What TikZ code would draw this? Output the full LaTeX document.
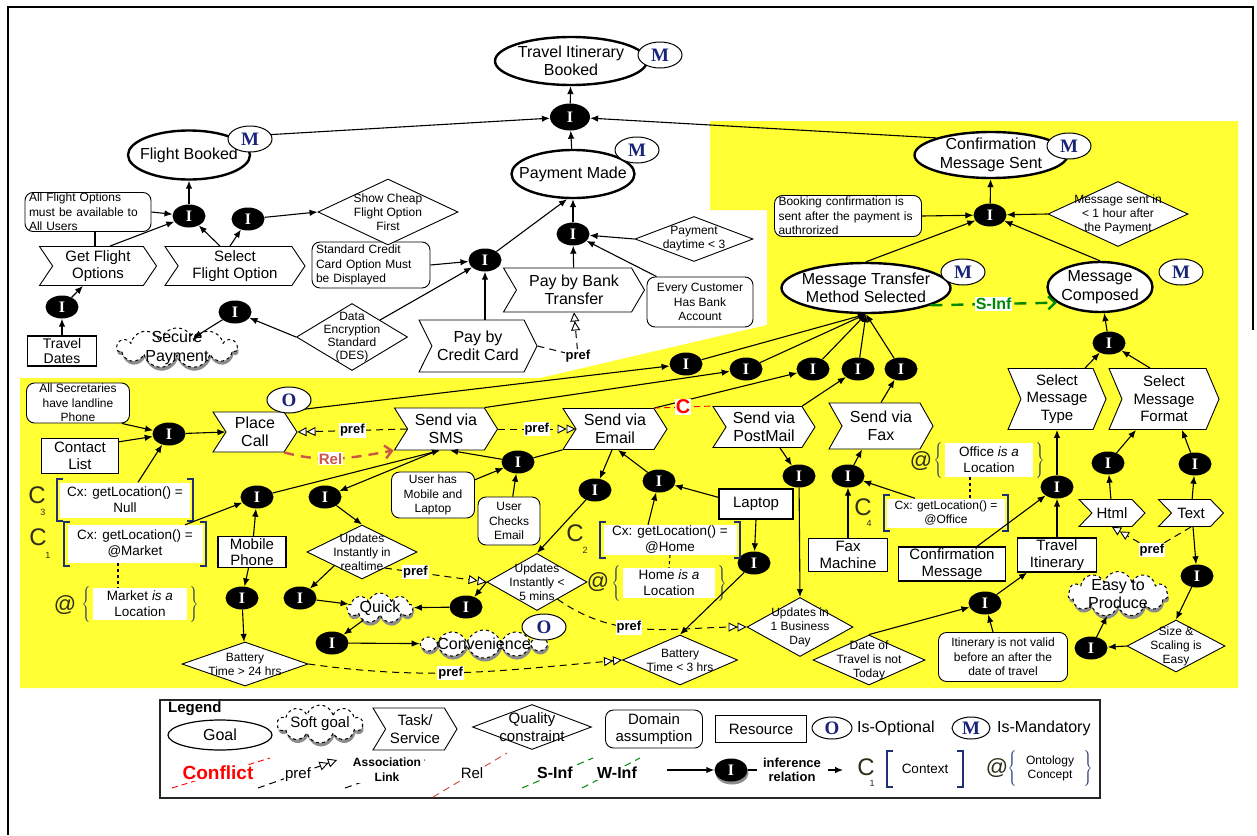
\documentclass[tikz,border=0pt]{standalone}
\usepackage{fontspec}
\setmainfont{Liberation Sans}
\newfontfamily\serifface{Liberation Serif}
\usetikzlibrary{shapes.geometric,shapes.symbols,shadows,arrows.meta,calc}

\definecolor{hilite}{RGB}{255,255,51}
\definecolor{badgeblue}{RGB}{25,35,120}
\definecolor{brkblue}{RGB}{30,50,115}
\definecolor{relred}{RGB}{205,85,70}
\definecolor{infgreen}{RGB}{0,135,0}
\definecolor{markdark}{RGB}{45,45,25}

\newcommand\fsz[2]{\fontsize{#1}{#2}\selectfont}

% square brackets drawn round a context box
\newcommand\ctxbrackets[1]{%
  \draw[brk] ($(#1.north west)+(3,-3)$) -| ($(#1.south west)+(-3,3)$) -- ++(6,0);
  \draw[brk] ($(#1.north east)+(-3,-3)$) -| ($(#1.south east)+(3,3)$) -- ++(-6,0);
}
% curly braces round an ontology concept
\newcommand\ontbraces[1]{%
  \node[brace, anchor=east] (#1-ob) at ([xshift=-1pt]#1.west) {$\left\{\vrule height 15pt depth 15pt width 0pt\right.$};
  \node[brace, anchor=west] (#1-cb) at ([xshift=1pt]#1.east) {$\left.\vrule height 15pt depth 15pt width 0pt\right\}$};
}

\tikzset{
  lbl/.style={align=center, inner sep=0pt, text=black},
  tg/.style={label={[lbl,font=\fsz{16}{18.5}]center:{#1}}},
  tt/.style={label={[lbl,font=\fsz{15}{17.5}]center:{#1}}},
  tq/.style={label={[lbl,font=\fsz{12}{14}]center:{#1}}},
  tq4/.style={label={[lbl,font=\fsz{12}{13}]center:{#1}}},
  goal/.style={ellipse, draw, line width=2.4pt, fill=white, inner sep=0pt},
  inode/.style={ellipse, fill=black, text=white, font=\serifface\bfseries\fsz{16}{16},
    minimum width=33pt, minimum height=23pt, inner sep=0pt},
  badge/.style={ellipse, draw, line width=1pt, fill=white, text=badgeblue,
    font=\serifface\bfseries\fsz{19}{19}, minimum width=44pt, minimum height=26pt, inner sep=0pt},
  task/.style={signal, signal to=east, signal from=west, signal pointer angle=#1,
    draw, line width=0.9pt, fill=white, inner sep=0pt},
  dom/.style={rectangle, rounded corners=8pt, draw, line width=0.9pt, fill=white,
    font=\fsz{12}{14.5}, align=center, inner xsep=4pt, inner ysep=0pt},
  res/.style={rectangle, draw, line width=1.2pt, fill=white, font=\fsz{15}{16.5},
    align=center, inner sep=0pt},
  qual/.style={diamond, draw, line width=0.9pt, fill=white, inner sep=0pt},
  soft/.style={cloud, cloud puffs=#1, cloud ignores aspect, draw, dashed, line width=1pt,
    fill=white, inner sep=0pt,
    drop shadow={shadow xshift=1pt, shadow yshift=-3.5pt, fill=black!45, opacity=1}},
  ctxbox/.style={fill=white, font=\fsz{13.5}{16}, align=center, inner sep=0pt},
  cletter/.style={text=markdark, font=\fsz{24}{24}, inner sep=0pt},
  csub/.style={text=markdark, font=\fsz{9}{9}, inner sep=0pt},
  atsign/.style={text=markdark, font=\fsz{22}{22}, inner sep=0pt},
  brace/.style={text=brkblue, inner sep=0pt},
  brk/.style={brkblue, line width=2.2pt},
  arr/.style={-{Latex[length=8pt,width=6.5pt]}, line width=1.1pt},
  ln/.style={line width=1.1pt},
  pref/.style={line width=1pt, dash pattern=on 7pt off 5pt,
    -{Triangle[fill=white,length=9pt,width=9pt,line width=0.9pt]Triangle[fill=white,length=9pt,width=9pt,line width=0.9pt]}},
  preflbl/.style={fill=white, inner sep=1pt, font=\bfseries\fsz{13}{13}},
  relc/.style={relred, line width=2.4pt, dash pattern=on 10pt off 7pt, -{Straight Barb[length=7pt,width=13pt]}},
  rellbl/.style={fill=white, text=relred, font=\bfseries\fsz{15}{15}, inner sep=1pt},
  conf/.style={red, line width=0.9pt, dash pattern=on 6pt off 4pt},
  conflbl/.style={fill=white, text=red, font=\bfseries\fsz{20}{20}, inner sep=1pt},
  sinf/.style={infgreen, line width=2.4pt, dash pattern=on 12pt off 9pt, -{Straight Barb[length=7pt,width=13pt]}},
  sinflbl/.style={fill=white, text=infgreen, font=\bfseries\fsz{16}{16}, inner sep=1pt},
}

\begin{document}
\begin{tikzpicture}[x=1pt, y=-1pt]
\useasboundingbox (0,0) rectangle (1257,835);
\fill[white] (0,0) rectangle (1257,835);
% highlighted communication area
\fill[hilite] (20,378) -- (540,378) -- (767,325) -- (767,210) -- (710,210) -- (710,121)
  -- (1238,121) -- (1238,688) -- (20,688) -- cycle;
\draw[line width=2pt] (8,835) -- (8,7) -- (1253,7) -- (1253,330);

% ---------------- goals
\node[goal, minimum width=152, minimum height=48, tg={Travel Itinerary\\Booked}] (TIB) at (571,61) {};
\node[goal, minimum width=122, minimum height=49, tg={Flight Booked}] (FB) at (189,155) {};
\node[goal, minimum width=123, minimum height=48, tg={Payment Made}] (PM) at (573,174) {};
\node[goal, minimum width=153, minimum height=46, tg={Confirmation\\Message Sent}] (CMS) at (991,155) {};
\node[goal, minimum width=169, minimum height=50, tg={Message Transfer\\Method Selected}] (MTMS) at (866,288) {};
\node[goal, minimum width=105, minimum height=50, tg={Message\\Composed}] (MC) at (1100,287) {};

% ---------------- inference nodes
\node[inode, minimum width=40, minimum height=27] (I1) at (570,117) {I};
\node[inode] (I2) at (990,215) {I};
\node[inode] (I3) at (189,216) {I};
\node[inode] (I4) at (248,219) {I};
\node[inode] (I5) at (62,307) {I};
\node[inode] (I6) at (235,312) {I};
\node[inode] (I7) at (485,260) {I};
\node[inode] (I8) at (573,234) {I};
\node[inode] (Ia) at (686,364) {I};
\node[inode] (Ib) at (746,369) {I};
\node[inode] (Ic) at (813,369) {I};
\node[inode] (Id) at (858,369) {I};
\node[inode] (Ie) at (901,369) {I};
\node[inode] (I9) at (169,434) {I};
\node[inode] (I10) at (257,497) {I};
\node[inode] (I11) at (325,497) {I};
\node[inode] (I12) at (518,462) {I};
\node[inode] (I13) at (1109,343) {I};
\node[inode] (I14) at (300,598) {I};
\node[inode] (I15) at (332,643) {I};
\node[inode] (I16) at (595,490) {I};
\node[inode] (I17) at (659,481) {I};
\node[inode] (I18) at (466,607) {I};
\node[inode] (I19) at (754,563) {I};
\node[inode] (I20) at (799,476) {I};
\node[inode] (I21) at (242,598) {I};
\node[inode] (I22) at (848,476) {I};
\node[inode] (I23) at (1057,487) {I};
\node[inode] (I24) at (985,603) {I};
\node[inode] (I25) at (1108,463) {I};
\node[inode] (I26) at (1195,464) {I};
\node[inode] (I27) at (1197,576) {I};
\node[inode] (I28) at (1091,648) {I};

% ---------------- domain assumptions
\node[dom, align=left, text width=118pt, minimum height=39] (AFO) at (88,212) {All Flight Options\\must be available to\\All Users};
\node[dom, align=left, text width=110pt, minimum height=46] (SCC) at (371,265) {Standard Credit\\Card Option Must\\be Displayed};
\node[dom, align=left, text width=139pt, minimum height=41] (BCDA) at (848,216) {Booking confirmation is\\sent after the payment is\\authrorized};
\node[dom, minimum width=106, minimum height=50] (ECHBA) at (700,302) {Every Customer\\Has Bank\\Account};
\node[dom, minimum width=103, minimum height=40] (ASL) at (78,403) {All Secretaries\\have landline\\Phone};
\node[dom, minimum width=83, minimum height=46] (UhML) at (433,495) {User has\\Mobile and\\Laptop};
\node[dom, minimum width=62, minimum height=48] (UCE) at (509,521) {User\\Checks\\Email};
\node[dom, minimum width=129, minimum height=49] (INV) at (1003,657) {Itinerary is not valid\\before an after the\\date of travel};

% ---------------- resources
\node[res, font=\fsz{14}{15}, minimum width=69, minimum height=30] (TD) at (62,351) {Travel\\Dates};
\node[res, minimum width=77, minimum height=35] (CL) at (80,456) {Contact\\List};
\node[res, minimum width=68, minimum height=31] (MP) at (252,552) {Mobile\\Phone};
\node[res, minimum width=74, minimum height=30] (LT) at (756,504) {Laptop};
\node[res, minimum width=79, minimum height=33] (FM) at (848,555) {Fax\\Machine};
\node[res, minimum width=107, minimum height=34] (CM) at (952,564) {Confirmation\\Message};
\node[res, minimum width=79, minimum height=34] (TI) at (1057,555) {Travel\\Itinerary};

% ---------------- tasks
\node[task=112, minimum width=117, minimum height=39, tt={Get Flight\\Options}] (GFO) at (98,266) {};
\node[task=112, minimum width=140, minimum height=39, tt={Select\\Flight Option}] (SFO) at (235,266) {};
\node[task=119, minimum width=141, minimum height=44, tg={Pay by Bank\\Transfer}] (PBT) at (574,290) {};
\node[task=127, minimum width=118, minimum height=52, tg={Pay by\\Credit Card}] (PCC) at (478,346) {};
\node[task=114, minimum width=84, minimum height=40, tg={Place\\Call}] (PC) at (255,432) {};
\node[task=116, minimum width=103, minimum height=42, tg={Send via\\SMS}] (SMS) at (446,429) {};
\node[task=115, minimum width=104, minimum height=41, tg={Send via\\Email}] (EM) at (615,429) {};
\node[task=115, minimum width=102, minimum height=41, tg={Send via\\PostMail}] (PMl) at (764,427) {};
\node[task=121, minimum width=104, minimum height=46, tg={Send via\\Fax}] (FX) at (881,426) {};
\node[task=134, minimum width=98, minimum height=61, tt={Select\\Message\\Type}] (SMT) at (1057,399) {};
\node[task=134, minimum width=110, minimum height=61, tt={Select\\Message\\Format}] (SMF) at (1164,399) {};
\node[task=92, minimum width=66, minimum height=27, tt={Html}] (HT) at (1112,513) {};
\node[task=92, minimum width=65, minimum height=27, tt={Text}] (TX) at (1191,513) {};

% ---------------- quality constraints
\node[qual, minimum width=140, minimum height=66, tq={Show Cheap\\Flight Option\\First}] (SCF) at (388,212) {};
\node[qual, minimum width=111, minimum height=67, tq4={Data\\Encryption\\Standard\\(DES)}] (DES) at (352,337) {};
\node[qual, minimum width=118, minimum height=45, tq={Payment\\daytime < 3}] (PDT) at (694,239) {};
\node[qual, minimum width=140, minimum height=65, tq={Message sent in\\< 1 hour after\\the Payment}] (MSD) at (1118,214) {};
\node[qual, minimum width=110, minimum height=54, tq={Updates\\Instantly in\\realtime}] (UIR) at (362,552) {};
\node[qual, minimum width=100, minimum height=57, tq={Updates\\Instantly <\\5 mins}] (UI5) at (537,582) {};
\node[qual, minimum width=106, minimum height=59, tq={Updates in\\1 Business\\Day}] (U1BD) at (800,627) {};
\node[qual, minimum width=126, minimum height=44, tq={Battery\\Time > 24 hrs}] (B24) at (245,664) {};
\node[qual, minimum width=115, minimum height=50, tq={Battery\\Time < 3 hrs}] (B3) at (680,660) {};
\node[qual, minimum width=112, minimum height=50, tq={Date of\\Travel is not\\Today}] (DoT) at (869,660) {};
\node[qual, minimum width=98, minimum height=52, tq={Size \&\\Scaling is\\Easy}] (SSE) at (1176,646) {};

% ---------------- soft goals
\node[soft=11, minimum width=120, minimum height=40, tg={Secure\\Payment}] (SP) at (177,348) {};
\node[soft=9, minimum width=66, minimum height=30, tg={Quick}] (QK) at (380,608) {};
\node[soft=12, minimum width=128, minimum height=28, tg={Convenience}] (CV) at (484,644) {};
\node[soft=11, minimum width=100, minimum height=45, tg={Easy to\\Produce}] (ETP) at (1118,594) {};

% ---------------- contexts and ontology concepts
\node[cletter] (c3L) at (37,495) {C};
\node[csub] (c3S) at (43,512) {3};
\node[ctxbox, minimum width=130, minimum height=35] (cx3) at (125,500) {Cx: getLocation() =\\Null};
\node[cletter] (c1L) at (38,537) {C};
\node[csub] (c1S) at (48,555) {1};
\node[ctxbox, minimum width=135, minimum height=38] (cx1) at (135,544) {Cx: getLocation() =\\@Market};
\node[cletter] (c2L) at (575,533) {C};
\node[csub] (c2S) at (585,550) {2};
\node[ctxbox, minimum width=133, minimum height=30] (cx2) at (670,540) {Cx: getLocation() =\\@Home};
\node[cletter] (c4L) at (863,507) {C};
\node[csub] (c4S) at (869,523) {4};
\node[ctxbox, font=\fsz{12}{14}, minimum width=118, minimum height=29] (cx4) at (946,513) {Cx: getLocation() =\\@Office};
\ctxbrackets{cx3}
\ctxbrackets{cx1}
\ctxbrackets{cx2}
\ctxbrackets{cx4}

\node[atsign] (o1A) at (65,605) {@};
\node[ctxbox, minimum width=94, minimum height=32] (ont1) at (140,604) {Market \textit{is a}\\Location};
\node[atsign] (o2A) at (598,582) {@};
\node[ctxbox, minimum width=92, minimum height=30] (ont2) at (669,583) {Home \textit{is a}\\Location};
\node[atsign] (o4A) at (921,461) {@};
\node[ctxbox, minimum width=88, minimum height=34] (ont4) at (989,460) {Office \textit{is a}\\Location};
\ontbraces{ont1}
\ontbraces{ont2}
\ontbraces{ont4}

% ---------------- top level links
\draw[arr] (I1) -- (TIB);
\draw[arr] (PM) -- (I1);
\draw[arr] (FB.north east) -- (I1);
\draw[arr] (CMS.north west) -- (I1);

% flight booking
\draw[arr] (I3) -- (FB);
\draw[arr] (AFO.east) -- (I3);
\draw[ln] ([xshift=7pt]AFO.south) -- ([xshift=-3pt]GFO.north);
\draw[arr] ([xshift=12pt]GFO.north) -- (I3);
\draw[arr] ([xshift=-15pt]SFO.north) -- (I3);
\draw[arr] ([xshift=-5pt]SFO.north) -- (I4);
\draw[arr] (I4) -- (SCF.west);
\draw[arr] (TD) -- (I5);
\draw[arr] (I5) -- ([xshift=-15pt]GFO.south);
\draw[arr] (DES.west) -- (I6);
\draw[arr] (I6) -- (SP);

% payment
\draw[arr] (SCC.east) -- (I7);
\draw[arr] (DES.north east) -- (I7);
\draw[arr] ([xshift=7pt]PCC.north) -- (I7);
\draw[arr] (I7) -- ([xshift=-6pt]PM.south);
\draw[arr] (I8) -- (PM);
\draw[arr] (PBT) -- (I8);
\draw[arr] (PDT.west) -- (I8);
\draw[arr] ([xshift=10pt]ECHBA.north west) -- (I8);
\coordinate (bendA) at (578,356);
\draw[pref] (PCC.east) -- (bendA) -- (PBT.south);
\node[preflbl] (pA) at (bendA) {pref};

% confirmation message
\draw[arr] (I2) -- (CMS);
\draw[arr] (BCDA.east) -- (I2);
\draw[arr] (MSD.west) -- (I2);
\draw[arr] (MTMS.north) -- (I2);
\draw[arr] (MC.north) -- (I2);
\draw[sinf] (MTMS.-15) -- node[sinflbl] (sinfL) {S-Inf} (MC.200);

\draw[arr] (Ia) -- (MTMS.south);
\draw[arr] (Ib) -- (MTMS.south);
\draw[arr] (Ic) -- (MTMS.south);
\draw[arr] (Id) -- (MTMS.south);
\draw[arr] (Ie) -- (MTMS.south);
\draw[arr] (PC.north east) -- (Ia);
\draw[arr] (SMS.north east) -- (Ib);
\draw[arr] (EM.north east) -- (Ic);
\draw[arr] (PMl.north east) -- (Id);
\draw[arr] (FX.north) -- (Ie);

\draw[arr] (I13) -- (MC);
\draw[arr] ([xshift=28pt]SMT.north) -- (I13);
\draw[arr] ([xshift=-14pt]SMF.north) -- (I13);

% phone and SMS
\draw[arr] (ASL.-25) -- (I9);
\draw[arr] (CL.20) -- (I9);
\draw[arr] ([xshift=13pt]cx3.north) -- (I9);
\draw[arr] (I9) -- (PC.west);
\draw[pref] (SMS.west) -- node[preflbl] (pB) {pref} (PC.east);
\draw[relc] (PC.south east) to[out=-15, in=190] node[rellbl, pos=0.42] (relL) {Rel} (SMS.south west);
\draw[pref] (SMS.east) -- node[preflbl] (pC) {pref} (EM.west);
\draw[conf] (EM.north east) -- node[conflbl] (confL) {C} (PMl.north west);

\draw[arr] ([xshift=50pt]cx1.north) -- (I10);
\draw[arr] (MP) -- (I10);
\draw[arr] (I10) -- ([xshift=-6pt]SMS.south);
\draw[line width=1.1pt, dashed] ([xshift=-17pt]cx1.south) -- ([xshift=-22pt]ont1.north);
\draw[arr] (MP) -- (I21);
\draw[arr] (I21) -- (B24);
\draw[arr] ([xshift=-8pt]SMS.south) -- (I11);
\draw[arr] (I11) -- (UIR.north);
\draw[arr] (UIR.south west) -- (I14);
\draw[arr] (I14) -- (QK);
\draw[arr] (QK) -- (I15);
\draw[arr] (I15) -- (CV);

% e-mail
\draw[arr] (UhML.20) -- (I12);
\draw[arr] (UCE) -- (I12);
\draw[ln] (I12) -- (EM.south west);
\draw[arr] (I12) -- ([xshift=4pt]SMS.south);
\draw[arr] ([xshift=-3pt]EM.south) -- (I16);
\draw[arr] (I16) -- (UI5.north);
\draw[arr] (UI5.west) -- (I18);
\draw[arr] (I18) -- (QK);
\draw[arr] (I17) -- ([xshift=3pt]EM.south);
\draw[arr] (LT.170) -- (I17);
\draw[arr] ([xshift=-22pt]cx2.north) -- (I17);
\draw[line width=1.1pt, dashed] (cx2.south) -- (ont2.north);
\draw[arr] (LT.south) -- (I19);
\draw[arr] (I19) -- (B3.north);
\draw[arr] ([xshift=16pt]PMl.south) -- (I20);
\draw[arr] (I20) -- (U1BD.north);
\draw[pref] (UIR.-35) -- node[preflbl, pos=0.3] (pD) {pref} (UI5.west);
\draw[pref] (UI5.-40) to[out=-35, in=180] node[preflbl, pos=0.4] (pE) {pref} (U1BD.west);
\draw[pref] (B24.east) to[out=-8, in=185] node[preflbl, pos=0.45] (pF) {pref} (B3.west);

% fax and message composition
\draw[arr] (FM) -- (I22);
\draw[arr] (I22) -- ([xshift=-19pt]FX.south);
\draw[arr] ([xshift=-31pt]cx4.north) -- (I22);
\draw[line width=1.1pt, dashed] ([xshift=-19pt]ont4.south) -- ([xshift=24pt]cx4.north);
\draw[arr] ([xshift=25pt]CM.north) -- (I23);
\draw[arr] (TI) -- (I23);
\draw[arr] (I23) -- (SMT);
\draw[arr] (I24) -- ([xshift=-30pt]TI.south);
\draw[arr] (DoT.north) -- (I24);
\draw[arr] ([xshift=-10pt]INV.north) -- (I24);
\draw[arr] (HT) -- (I25);
\draw[arr] (I25) -- ([xshift=-28pt]SMF.south);
\draw[arr] (TX) -- (I26);
\draw[arr] (I26) -- ([xshift=18pt]SMF.south);
\coordinate (bendB) at (1152,550);
\draw[pref] (TX.south) -- (bendB) -- (HT.south);
\node[preflbl] (pG) at (bendB) {pref};
\draw[arr] ([xshift=2pt]TX.south) -- (I27);
\draw[arr] (I27) -- (SSE.north);
\draw[arr] (SSE.west) -- (I28);
\draw[arr] (I28) -- (ETP);

% ---------------- optional / mandatory marks
\node[badge] (TIBm) at (660,55) {M};
\node[badge] (FBm) at (250,139) {M};
\node[badge] (PMm) at (637,150) {M};
\node[badge] (CMSm) at (1069,146) {M};
\node[badge] (MTMSm) at (963,272) {M};
\node[badge] (MCm) at (1181,272) {M};
\node[badge] (PCo) at (289,400) {O};
\node[badge] (CVo) at (544,627) {O};

% ---------------- legend
\draw[line width=1.6pt, black!85] (160,700) rectangle (1100,798);
\node[anchor=west, font=\bfseries\fsz{15}{15}, inner sep=0pt] (lgT) at (168,709) {Legend};
\node[goal, line width=1.2pt, minimum width=104, minimum height=30, tg={Goal}] (lgGoal) at (220,735) {};
\node[soft=10, minimum width=85, minimum height=38, tt={Soft goal}] (lgSoft) at (320,724) {};
\node[task=118, minimum width=84, minimum height=42, tt={Task/\\Service}] (lgTask) at (415,729) {};
\node[qual, minimum width=119, minimum height=45, tt={Quality\\constraint}] (lgQual) at (532,727) {};
\node[dom, font=\fsz{15}{17}, minimum width=97, minimum height=38] (lgDom) at (654,729) {Domain\\assumption};
\node[res, minimum width=91, minimum height=27] (lgRes) at (761,729) {Resource};
\node[badge, minimum width=40, minimum height=22] (lgO) at (832,728) {O};
\node[anchor=west, font=\fsz{16}{16}, inner sep=0pt] (lgOt) at (857,728) {Is-Optional};
\node[badge, minimum width=38, minimum height=22] (lgM) at (971,728) {M};
\node[anchor=west, font=\fsz{16}{16}, inner sep=0pt] (lgMt) at (997,728) {Is-Mandatory};

\coordinate (lcA) at (172,788); \coordinate (lcB) at (270,758);
\draw[conf] (lcA) -- (lcB);
\node[fill=white, text=red, font=\bfseries\fsz{19}{19}, inner sep=1pt] (lgConf) at (218,773) {Conflict};
\coordinate (lpA) at (258,788); \coordinate (lpB) at (337,760);
\draw[pref] (lpA) -- (lpB);
\node[fill=white, font=\fsz{15}{15}, inner sep=1pt] (lgPref) at (298,775) {pref};
\coordinate (laA) at (345,788); \coordinate (laB) at (425,760);
\draw[line width=1pt, dash pattern=on 7pt off 5pt] (laA) -- (laB);
\node[fill=white, align=center, font=\bfseries\fsz{12}{15}, inner sep=1pt] (lgAssoc) at (387,770) {Association\\Link};
\coordinate (lrA) at (433,797); \coordinate (lrB) at (507,753);
\draw[relred, line width=1pt, dash pattern=on 7pt off 5pt] (lrA) -- (lrB);
\node[fill=white, font=\fsz{15}{15}, inner sep=1pt] (lgRel) at (472,773) {Rel};
\coordinate (lsA) at (522,788); \coordinate (lsB) at (593,758);
\draw[infgreen, line width=1pt, dash pattern=on 7pt off 5pt] (lsA) -- (lsB);
\node[fill=white, font=\bfseries\fsz{16}{16}, inner sep=1pt] (lgS) at (555,773) {S-Inf};
\coordinate (lwA) at (582,788); \coordinate (lwB) at (640,758);
\draw[infgreen, line width=1pt, dash pattern=on 7pt off 5pt] (lwA) -- (lwB);
\node[fill=white, font=\bfseries\fsz{16}{16}, inner sep=1pt] (lgW) at (617,773) {W-Inf};

\node[inode, drop shadow={shadow xshift=1pt, shadow yshift=-3pt, fill=black!45, opacity=1}] (lgI) at (731,770) {I};
\coordinate (liA) at (667,770); \coordinate (liB) at (757,770);
\draw[arr] (liA) -- (lgI);
\draw[ln] (lgI) -- (liB);
\node[align=center, font=\bfseries\fsz{13}{14.5}, inner sep=0pt] (lgInf) at (792,770) {inference\\relation};
\coordinate (lxA) at (828,770); \coordinate (lxB) at (843,770);
\draw[arr] (lxA) -- (lxB);
\node[cletter] (lgC) at (866,767) {C};
\node[csub] (lgCs) at (872,783) {1};
\node[ctxbox, minimum width=70, minimum height=30] (lgCtx) at (925,769) {Context};
\ctxbrackets{lgCtx}
\node[atsign] (lgAt) at (997,768) {@};
\node[ctxbox, font=\fsz{12}{14}, minimum width=62, minimum height=30] (lgOnt) at (1050,768) {Ontology\\Concept};
\ontbraces{lgOnt}
\end{tikzpicture}
\end{document}
